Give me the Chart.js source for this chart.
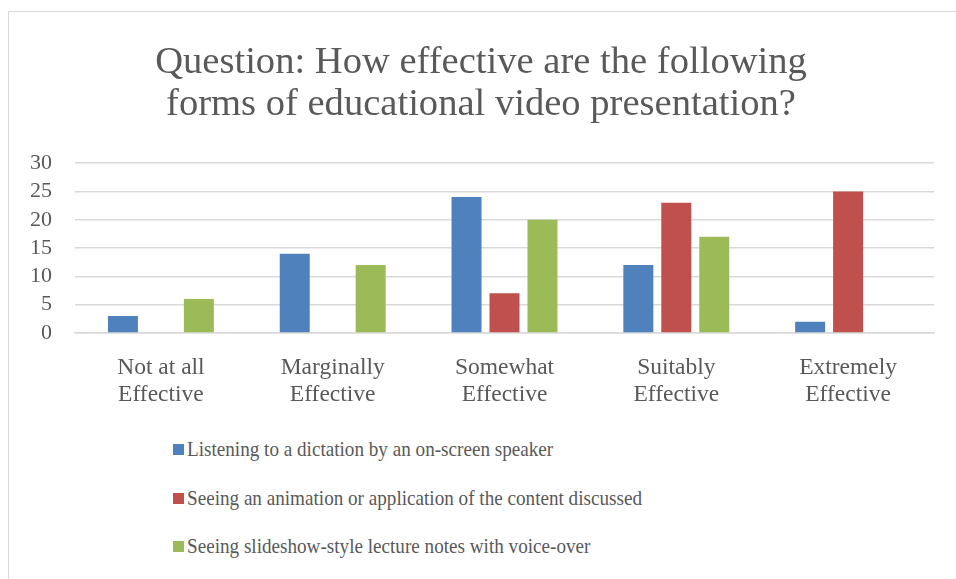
<!DOCTYPE html>
<html>
<head>
<meta charset="utf-8">
<script src="https://cdn.jsdelivr.net/npm/chart.js@4.4.1/dist/chart.umd.min.js"></script>
<style>
  html,body{margin:0;padding:0;background:#fff;}
  body{width:956px;height:579px;position:relative;overflow:hidden;}
  .frame{position:absolute;left:8px;top:11px;width:1000px;height:700px;border:1.5px solid #d9d9d9;box-sizing:border-box;}
  .wrap{position:absolute;left:0;top:0;width:956px;height:420px;}
  #legend{position:absolute;left:173px;top:432px;font-family:"Liberation Serif",serif;font-size:22px;color:#595959;}
  #legend .item{height:48.5px;line-height:34px;white-space:nowrap;}
  #legend .sw{display:inline-block;width:11px;height:11px;margin-right:3px;vertical-align:1px;}
  #legend .txt{display:inline-block;transform:scaleX(0.87);transform-origin:0 50%;}
</style>
</head>
<body>
<div class="frame"></div>
<div class="wrap"><canvas id="chart"></canvas></div>
<div id="legend"></div>
<script>
/* Effectiveness survey — grouped bars */

var CATEGORIES = [['Not at all','Effective'],['Marginally','Effective'],['Somewhat','Effective'],['Suitably','Effective'],['Extremely','Effective']];
var SERIES_NAMES = [
  'Listening to a dictation by an on-screen speaker',
  'Seeing an animation or application of the content discussed',
  'Seeing slideshow-style lecture notes with voice-over'
];
var DICTATION = [3, 14, 24, 12, 2];
var ANIMATION = [0, 0, 7, 23, 25];
var SLIDESHOW = [6, 12, 20, 17, 0];
var Y_TICKS = [0, 5, 10, 15, 20, 25, 30];

var COLORS = ['#4F81BD', '#C0504D', '#9BBB59'];
var TXT = '#595959', GRID = '#d9d9d9';
var SERIF = '"Liberation Serif", serif';

var datasets = [DICTATION, ANIMATION, SLIDESHOW].map(function(d, i){
  return { label: SERIES_NAMES[i], data: d, backgroundColor: COLORS[i],
    categoryPercentage: 0.663, barPercentage: 0.79 };
});

var chart = new Chart(document.getElementById('chart'), {
  type: 'bar',
  data: { labels: CATEGORIES, datasets: datasets },
  options: {
    responsive: true, maintainAspectRatio: false, animation: false,
    // left padding nudges the title centre right, y labels still fit
    layout: { padding: { left: 28, right: 22, top: 0, bottom: 0 } },
    plugins: {
      legend: { display: false },
      tooltip: { enabled: false },
      title: {
        display: true,
        text: ['Question: How effective are the following', 'forms of educational video presentation?'],
        color: TXT,
        font: { family: SERIF, size: 38.6, weight: 'normal', lineHeight: 1.09 },
        padding: { top: 42, bottom: 37 }
      }
    },
    scales: {
      x: {
        grid: { display: false },
        border: { display: true, color: GRID, width: 1.5 },
        ticks: { color: TXT, font: { family: SERIF, size: 23.5, lineHeight: 1.15 }, padding: 13, maxRotation: 0 },
        afterFit: function(s){ s.height = 87; }
      },
      y: {
        min: 0, max: 30,
        afterBuildTicks: function(s){ s.ticks = Y_TICKS.map(function(v){ return {value: v}; }); },
        grid: { color: GRID, lineWidth: 1.5, drawTicks: false },
        border: { display: false },
        ticks: { color: TXT, font: { family: SERIF, size: 22 }, padding: 23, autoSkip: false },
        afterFit: function(s){ s.width = 47; }
      }
    }
  }
});

// legend listed one per line, left aligned like the source
document.getElementById('legend').innerHTML = chart.data.datasets.map(function(ds){
  return '<div class="item"><span class="sw" style="background:'+ds.backgroundColor+'"></span><span class="txt">'+ds.label+'</span></div>';
}).join('');
</script>
</body>
</html>
